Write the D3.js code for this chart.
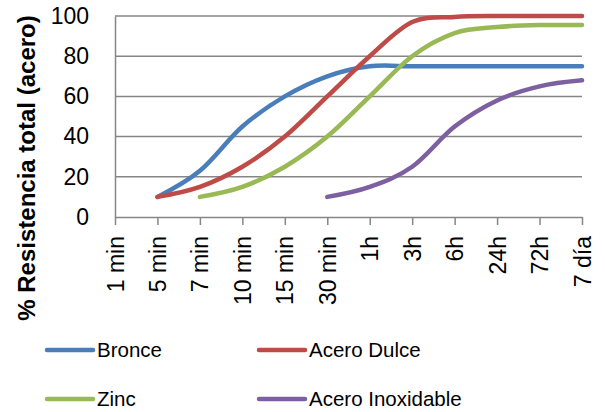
<!DOCTYPE html>
<html>
<head>
<meta charset="utf-8">
<script src="https://cdn.jsdelivr.net/npm/d3@7"></script>
<style>
  body { margin: 0; background: #fff; }
  svg { font-family: "Liberation Sans", Arial, sans-serif; }
</style>
</head>
<body>
<svg width="605" height="412"></svg>
<script>
// categorias del eje x
var categories = ["1 min", "5 min", "7 min", "10 min", "15 min", "30 min", "1h", "3h", "6h", "24h", "72h", "7 día"];
var yTicks = [0, 20, 40, 60, 80, 100];

// valores (null = sin dato)
var bronce    = [null, 10, 23, 45, 60, 70, 75, 75, 75, 75, 75, 75];
var aceroDulce = [null, 10, 15, 25, 40, 60, 80, 97, 99.5, 100, 100, 100];
var zinc      = [null, null, 10, 15, 25, 40, 60, 80, 91.5, 94.5, 95.5, 95.5];
var inox      = [null, null, null, null, null, 10, 15, 25, 45, 58, 65, 68];

var seriesNames = ["Bronce", "Acero Dulce", "Zinc", "Acero Inoxidable"];
var colors = ["#4A7EBB", "#BE4B48", "#98B954", "#7D60A0"];
var seriesData = [bronce, aceroDulce, zinc, inox];

var svg = d3.select("svg");
var pLeft = 115, pRight = 582, pTop = 16, pBottom = 217;

var x = d3.scalePoint().domain(categories).range([pLeft, pRight]).padding(0);
var y = d3.scaleLinear().domain([0, 100]).range([pBottom, pTop]);

// grid
svg.append("g").selectAll("line")
  .data(yTicks.filter(d => d > 0))
  .enter().append("line")
    .attr("x1", pLeft).attr("x2", pRight)
    .attr("y1", d => y(d)).attr("y2", d => y(d))
    .style("stroke", "#868686")
    .style("stroke-width", 1.5);

// y axis
var yAxis = svg.append("g")
  .attr("transform", "translate(" + pLeft + ",0)")
  .call(d3.axisLeft(y).tickValues(yTicks).tickSize(0).tickPadding(26));
yAxis.select(".domain").style("stroke", "#868686").style("stroke-width", 1.5);
yAxis.selectAll("text").style("font-size", "23px").style("fill", "#000")
  .attr("font-family", "Liberation Sans, Arial, sans-serif");

// x axis
var xAxis = svg.append("g")
  .attr("transform", "translate(0," + pBottom + ")")
  .call(d3.axisBottom(x).tickSize(8).tickSizeOuter(0));
xAxis.select(".domain").style("stroke", "#868686").style("stroke-width", 1.5);
xAxis.selectAll(".tick line").style("stroke", "#868686").style("stroke-width", 1.5);
xAxis.selectAll("text")
  .style("font-size", "23px").style("fill", "#000")
  .attr("font-family", "Liberation Sans, Arial, sans-serif")
  .attr("text-anchor", "end")
  .attr("transform", "rotate(-90)")
  .attr("x", -19).attr("y", 0).attr("dy", "0.35em");

// titulo eje y
svg.append("text")
  .attr("transform", "translate(35,168) rotate(-90)")
  .attr("text-anchor", "middle")
  .style("font-size", "24px")
  .style("font-weight", "bold")
  .text("% Resistencia total (acero)");

// lineas
var line = d3.line()
  .defined(d => d != null)
  .x((d, i) => x(categories[i]))
  .y(d => y(d))
  .curve(d3.curveCardinal);

svg.append("g").selectAll("path")
  .data(seriesData)
  .enter().append("path")
    .attr("d", line)
    .style("fill", "none")
    .style("stroke", (d, i) => colors[i])
    .style("stroke-width", 4.5)
    .style("stroke-linecap", "round");

// leyenda
var leg = svg.append("g").selectAll("g")
  .data(seriesNames)
  .enter().append("g")
    .attr("transform", (d, i) => "translate(" + (i % 2 == 0 ? 47 : 259) + "," + (i < 2 ? 350 : 399) + ")");
leg.append("line")
  .attr("x1", 0).attr("x2", 46)
  .style("stroke", (d, i) => colors[i])
  .style("stroke-width", 4.5)
  .style("stroke-linecap", "round");
leg.append("text")
  .attr("x", 50).attr("dy", "0.35em")
  .style("font-size", "20.5px")
  .text(d => d);
</script>
</body>
</html>
